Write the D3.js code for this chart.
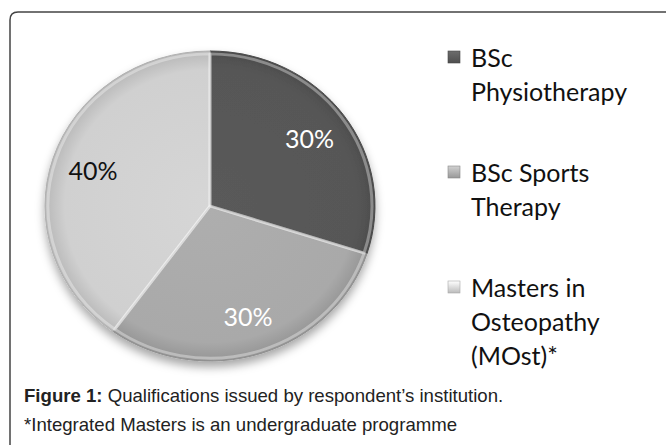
<!DOCTYPE html>
<html>
<head>
<meta charset="utf-8">
<script src="https://cdn.jsdelivr.net/npm/d3@7/dist/d3.min.js"></script>
<style>
  body { margin: 0; background: #fff; }
  svg { display: block; }
  .legend text { font-family: Lato, "Open Sans", sans-serif; font-size: 25px; fill: #111; }
  .caption { font-family: "Liberation Sans", Arial, sans-serif; font-size: 18.6px; fill: #222; }
</style>
</head>
<body>
<svg width="667" height="445"></svg>
<script>
// data
const categories = ['BSc Physiotherapy', 'BSc Sports Therapy', 'Masters in Osteopathy (MOst)*'];
const values = [30, 30, 40];
const legendLines = [['BSc', 'Physiotherapy'], ['BSc Sports', 'Therapy'], ['Masters in', 'Osteopathy', '(MOst)*']];
const sliceColors = ['#575757', '#a9a9a9', '#d0d0d0'];
const labelColors = ['#fff', '#fff', '#111'];

const svg = d3.select('svg');

const defs = svg.append('defs');

// soft shadow under the pie
const shadow = defs.append('filter').attr('id', 'shadow')
  .attr('x', '-20%').attr('y', '-20%').attr('width', '140%').attr('height', '140%');
shadow.append('feDropShadow')
  .attr('dx', 0).attr('dy', 6).attr('stdDeviation', 5)
  .attr('flood-color', '#000').attr('flood-opacity', 0.35);

sliceColors.forEach((c, i) => {
  const g = defs.append('radialGradient').attr('id', 'grad' + i)
    .attr('gradientUnits', 'userSpaceOnUse')
    .attr('cx', 0).attr('cy', 0).attr('r', 165);
  g.append('stop').attr('offset', '0%').attr('stop-color', d3.color(c).brighter(0.08));
  g.append('stop').attr('offset', '88%').attr('stop-color', c);
  g.append('stop').attr('offset', '100%').attr('stop-color', d3.color(c).darker(0.35));

  const lg = defs.append('linearGradient').attr('id', 'key' + i)
    .attr('x1', 0).attr('y1', 0).attr('x2', 0).attr('y2', 1);
  lg.append('stop').attr('offset', '0%').attr('stop-color', d3.color(c).brighter(0.6));
  lg.append('stop').attr('offset', '100%').attr('stop-color', d3.color(c).darker(0.3));
});

// frame, rounded top-left corner
const frame = d3.path();
frame.moveTo(10, 445);
frame.lineTo(10, 20);
frame.quadraticCurveTo(10, 12, 18, 12);
frame.lineTo(666, 12);
svg.append('path')
  .attr('d', frame.toString())
  .attr('fill', 'none')
  .attr('stroke', '#444')
  .attr('stroke-width', 1.5);

const cx = 210, cy = 206, rx = 165, ry = 155;
const k = ry / rx;

const pie = d3.pie().sort(null).value(d => d);
const arcs = pie(values);
const arc = d3.arc().innerRadius(0).outerRadius(rx);
const labelArc = d3.arc().innerRadius(rx * 0.745).outerRadius(rx * 0.745);

const pieG = svg.append('g')
  .attr('transform', `translate(${cx},${cy}) scale(1,${k})`);

const slices = pieG.append('g').attr('filter', 'url(#shadow)');
slices.selectAll('path.slice')
  .data(arcs)
  .enter()
  .append('path')
  .attr('class', 'slice')
  .attr('d', arc)
  .attr('fill', (d, i) => `url(#grad${i})`)
  .attr('stroke', (d, i) => d3.color(sliceColors[i]).darker(0.5))
  .attr('stroke-width', 1);

// bevel highlight along slice edges
pieG.selectAll('path.bevel')
  .data(arcs)
  .enter()
  .append('path')
  .attr('class', 'bevel')
  .attr('d', d3.arc().innerRadius(0).outerRadius(rx - 3))
  .attr('fill', 'none')
  .attr('stroke', '#fff')
  .attr('stroke-opacity', 0.35)
  .attr('stroke-width', 3)
  .attr('stroke-linejoin', 'round');

// percent labels at the slice centroids
svg.selectAll('text.pct')
  .data(arcs)
  .enter()
  .append('text')
  .attr('class', 'pct')
  .attr('x', d => cx + labelArc.centroid(d)[0])
  .attr('y', d => cy + labelArc.centroid(d)[1] * k)
  .attr('text-anchor', 'middle')
  .attr('dominant-baseline', 'central')
  .style('font-family', 'Lato, "Open Sans", sans-serif')
  .style('font-size', '25px')
  .attr('fill', (d, i) => labelColors[i])
  .text(d => d.value + '%');

// legend
const legendY = d3.scalePoint().domain(categories).range([57, 287]);
const legend = svg.append('g').attr('class', 'legend');
const items = legend.selectAll('g')
  .data(categories)
  .enter()
  .append('g')
  .attr('transform', d => `translate(448, ${legendY(d)})`);

items.append('rect')
  .attr('x', 0).attr('y', -6)
  .attr('width', 12).attr('height', 12)
  .attr('fill', (d, i) => `url(#key${i})`)
  .attr('stroke', (d, i) => d3.color(sliceColors[i]).darker(0.6))
  .attr('stroke-width', 0.6);

items.append('text')
  .attr('dominant-baseline', 'central')
  .selectAll('tspan')
  .data((d, i) => legendLines[i])
  .enter()
  .append('tspan')
  .attr('x', 23)
  .attr('dy', (t, j) => j === 0 ? 0 : 34)
  .text(t => t);

// caption
const cap = svg.append('text').attr('class', 'caption').attr('x', 24).attr('y', 402);
cap.append('tspan').style('font-weight', 'bold').text('Figure 1:');
cap.append('tspan').text(' Qualifications issued by respondent\u2019s institution.');
svg.append('text').attr('class', 'caption').attr('x', 24).attr('y', 431)
  .text('*Integrated Masters is an undergraduate programme');
</script>
</body>
</html>
